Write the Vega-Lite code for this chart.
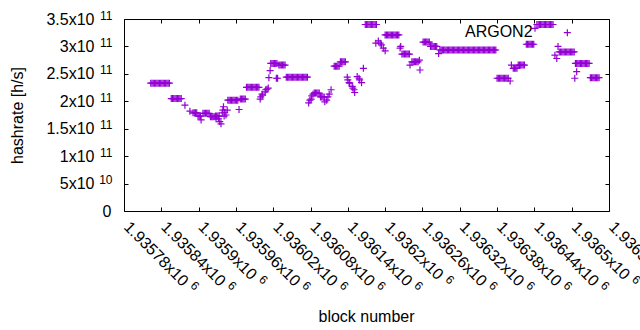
{
"$schema": "https://vega.github.io/schema/vega-lite/v6.json",
"width": 485, "height": 192,
"autosize": {"type": "none"},
"padding": {"left": 124, "top": 19, "right": 31, "bottom": 119},
"background": "white",
"config": {
  "view": {"stroke": null},
  "font": "Liberation Sans",
  "axis": {"labelFont": "Liberation Sans", "labelFontSize": 16, "labelColor": "black", "titleFont": "Liberation Sans", "titleFontSize": 16, "titleFontWeight": "normal", "titleColor": "black", "domainColor": "black", "domainWidth": 1, "tickColor": "black", "tickWidth": 1, "grid": false, "tickSize": -4, "labelOverlap": false, "labelFlush": false, "labelBound": false}
},
"data": {"values": [
{"b":1935823,"h":2.33e11},{"b":1935825,"h":2.33e11},{"b":1935827,"h":2.33e11},{"b":1935829,"h":2.33e11},{"b":1935831,"h":2.33e11},{"b":1935833,"h":2.33e11},{"b":1935835,"h":2.33e11},{"b":1935837,"h":2.33e11},{"b":1935839,"h":2.33e11},{"b":1935841,"h":2.33e11},{"b":1935843,"h":2.33e11},{"b":1935845,"h":2.33e11},{"b":1935847,"h":2.33e11},{"b":1935849,"h":2.33e11},{"b":1935851,"h":2.33e11},{"b":1935853,"h":2.33e11},
{"b":1935856,"h":2.05e11},{"b":1935858,"h":2.05e11},{"b":1935860,"h":2.05e11},{"b":1935862,"h":2.05e11},{"b":1935864,"h":2.05e11},{"b":1935866,"h":2.05e11},{"b":1935868,"h":2.05e11},{"b":1935870,"h":2.05e11},{"b":1935872,"h":2.05e11},
{"b":1935878,"h":1.93e11},{"b":1935886,"h":1.82e11},
{"b":1935891,"h":1.79e11},{"b":1935893,"h":1.79e11},{"b":1935895,"h":1.79e11},{"b":1935897,"h":1.79e11},
{"b":1935899,"h":1.73e11},{"b":1935901,"h":1.73e11},{"b":1935903,"h":1.73e11},{"b":1935904,"h":1.66e11},
{"b":1935907,"h":1.78e11},{"b":1935909,"h":1.78e11},{"b":1935911,"h":1.78e11},{"b":1935913,"h":1.78e11},{"b":1935915,"h":1.78e11},{"b":1935917,"h":1.78e11},
{"b":1935919,"h":1.72e11},{"b":1935921,"h":1.72e11},{"b":1935923,"h":1.72e11},{"b":1935925,"h":1.72e11},
{"b":1935927,"h":1.73e11},{"b":1935929,"h":1.73e11},{"b":1935931,"h":1.73e11},{"b":1935933,"h":1.73e11},{"b":1935928,"h":1.68e11},{"b":1935932,"h":1.68e11},
{"b":1935934,"h":1.63e11},{"b":1935936,"h":1.59e11},
{"b":1935938,"h":1.79e11},{"b":1935939,"h":1.84e11},{"b":1935940,"h":1.90e11},{"b":1935941,"h":1.73e11},{"b":1935942,"h":1.80e11},{"b":1935944,"h":1.75e11},{"b":1935946,"h":1.84e11},
{"b":1935947,"h":2.02e11},{"b":1935949,"h":2.02e11},{"b":1935951,"h":2.02e11},{"b":1935953,"h":2.02e11},{"b":1935955,"h":2.02e11},{"b":1935957,"h":2.02e11},{"b":1935959,"h":2.02e11},{"b":1935961,"h":2.02e11},{"b":1935963,"h":2.02e11},
{"b":1935965,"h":1.85e11},
{"b":1935967,"h":2.04e11},{"b":1935969,"h":2.04e11},{"b":1935971,"h":2.04e11},{"b":1935973,"h":2.04e11},{"b":1935975,"h":2.04e11},
{"b":1935977,"h":2.255e11},{"b":1935979,"h":2.255e11},{"b":1935981,"h":2.255e11},{"b":1935983,"h":2.255e11},{"b":1935985,"h":2.255e11},{"b":1935987,"h":2.255e11},{"b":1935989,"h":2.255e11},{"b":1935991,"h":2.255e11},{"b":1935993,"h":2.255e11},{"b":1935995,"h":2.255e11},{"b":1935997,"h":2.255e11},
{"b":1935999,"h":2.04e11},{"b":1936000,"h":2.08e11},{"b":1936002,"h":2.13e11},{"b":1936003,"h":2.11e11},
{"b":1936007,"h":2.17e11},{"b":1936008,"h":2.21e11},{"b":1936010,"h":2.22e11},{"b":1936012,"h":2.24e11},{"b":1936013,"h":2.43e11},{"b":1936015,"h":2.56e11},
{"b":1936016,"h":2.69e11},{"b":1936018,"h":2.69e11},{"b":1936020,"h":2.69e11},{"b":1936022,"h":2.69e11},{"b":1936024,"h":2.69e11},{"b":1936026,"h":2.69e11},
{"b":1936025,"h":2.42e11},{"b":1936027,"h":2.42e11},
{"b":1936029,"h":2.66e11},{"b":1936031,"h":2.66e11},{"b":1936033,"h":2.66e11},{"b":1936035,"h":2.66e11},{"b":1936037,"h":2.66e11},{"b":1936039,"h":2.66e11},
{"b":1936041,"h":2.44e11},{"b":1936043,"h":2.44e11},{"b":1936045,"h":2.44e11},{"b":1936047,"h":2.44e11},{"b":1936049,"h":2.44e11},{"b":1936051,"h":2.44e11},{"b":1936053,"h":2.44e11},{"b":1936055,"h":2.44e11},{"b":1936057,"h":2.44e11},{"b":1936059,"h":2.44e11},{"b":1936061,"h":2.44e11},{"b":1936063,"h":2.44e11},{"b":1936065,"h":2.44e11},{"b":1936067,"h":2.44e11},{"b":1936069,"h":2.44e11},{"b":1936071,"h":2.44e11},{"b":1936073,"h":2.44e11},{"b":1936075,"h":2.44e11},
{"b":1936077,"h":1.97e11},{"b":1936079,"h":2.02e11},{"b":1936081,"h":2.04e11},{"b":1936082,"h":2.10e11},{"b":1936084,"h":2.13e11},
{"b":1936086,"h":2.15e11},{"b":1936088,"h":2.15e11},{"b":1936090,"h":2.15e11},{"b":1936092,"h":2.15e11},{"b":1936094,"h":2.15e11},
{"b":1936096,"h":2.08e11},{"b":1936098,"h":2.08e11},{"b":1936100,"h":2.08e11},{"b":1936102,"h":2.08e11},
{"b":1936103,"h":1.99e11},{"b":1936106,"h":2.02e11},{"b":1936108,"h":2.08e11},{"b":1936110,"h":2.13e11},{"b":1936113,"h":2.21e11},
{"b":1936118,"h":2.64e11},{"b":1936120,"h":2.64e11},{"b":1936122,"h":2.64e11},{"b":1936124,"h":2.64e11},{"b":1936126,"h":2.64e11},
{"b":1936128,"h":2.72e11},{"b":1936130,"h":2.72e11},{"b":1936132,"h":2.72e11},{"b":1936134,"h":2.72e11},{"b":1936136,"h":2.72e11},
{"b":1936139,"h":2.44e11},{"b":1936140,"h":2.39e11},{"b":1936142,"h":2.34e11},{"b":1936143,"h":2.33e11},{"b":1936147,"h":2.27e11},{"b":1936148,"h":2.24e11},{"b":1936150,"h":2.21e11},{"b":1936151,"h":2.16e11},
{"b":1936155,"h":2.45e11},{"b":1936158,"h":2.42e11},{"b":1936159,"h":2.39e11},{"b":1936162,"h":2.34e11},
{"b":1936165,"h":2.60e11},
{"b":1936168,"h":3.40e11},{"b":1936170,"h":3.40e11},{"b":1936172,"h":3.40e11},{"b":1936174,"h":3.40e11},{"b":1936176,"h":3.40e11},{"b":1936178,"h":3.40e11},{"b":1936180,"h":3.40e11},{"b":1936182,"h":3.40e11},{"b":1936184,"h":3.40e11},{"b":1936186,"h":3.40e11},
{"b":1936185,"h":3.06e11},{"b":1936189,"h":3.10e11},{"b":1936192,"h":3.06e11},{"b":1936194,"h":3.03e11},{"b":1936197,"h":2.97e11},{"b":1936200,"h":2.92e11},
{"b":1936200,"h":3.21e11},{"b":1936202,"h":3.21e11},{"b":1936204,"h":3.21e11},{"b":1936206,"h":3.21e11},{"b":1936208,"h":3.21e11},{"b":1936210,"h":3.21e11},{"b":1936212,"h":3.21e11},{"b":1936214,"h":3.21e11},{"b":1936216,"h":3.21e11},{"b":1936218,"h":3.21e11},{"b":1936220,"h":3.21e11},{"b":1936222,"h":3.21e11},
{"b":1936224,"h":2.97e11},{"b":1936225,"h":3.0e11},
{"b":1936227,"h":2.86e11},{"b":1936229,"h":2.86e11},{"b":1936231,"h":2.86e11},{"b":1936233,"h":2.86e11},{"b":1936235,"h":2.86e11},{"b":1936237,"h":2.86e11},{"b":1936239,"h":2.86e11},
{"b":1936240,"h":2.66e11},
{"b":1936243,"h":2.72e11},{"b":1936245,"h":2.72e11},{"b":1936247,"h":2.72e11},{"b":1936249,"h":2.72e11},{"b":1936251,"h":2.72e11},{"b":1936253,"h":2.72e11},
{"b":1936255,"h":2.75e11},{"b":1936256,"h":2.57e11},
{"b":1936261,"h":3.08e11},{"b":1936263,"h":3.08e11},{"b":1936265,"h":3.08e11},{"b":1936267,"h":3.08e11},{"b":1936269,"h":3.08e11},{"b":1936271,"h":3.08e11},
{"b":1936273,"h":3.0e11},{"b":1936275,"h":3.0e11},{"b":1936277,"h":3.0e11},{"b":1936279,"h":3.0e11},{"b":1936281,"h":3.0e11},{"b":1936283,"h":3.0e11},
{"b":1936286,"h":2.87e11},
{"b":1936288,"h":2.935e11},{"b":1936290,"h":2.935e11},{"b":1936292,"h":2.935e11},{"b":1936294,"h":2.935e11},{"b":1936296,"h":2.935e11},{"b":1936298,"h":2.935e11},{"b":1936300,"h":2.935e11},{"b":1936302,"h":2.935e11},{"b":1936304,"h":2.935e11},{"b":1936306,"h":2.935e11},{"b":1936308,"h":2.935e11},{"b":1936310,"h":2.935e11},{"b":1936312,"h":2.935e11},{"b":1936314,"h":2.935e11},{"b":1936316,"h":2.935e11},{"b":1936318,"h":2.935e11},{"b":1936320,"h":2.935e11},{"b":1936322,"h":2.935e11},{"b":1936324,"h":2.935e11},{"b":1936326,"h":2.935e11},{"b":1936328,"h":2.935e11},{"b":1936330,"h":2.935e11},{"b":1936332,"h":2.935e11},{"b":1936334,"h":2.935e11},{"b":1936336,"h":2.935e11},{"b":1936338,"h":2.935e11},{"b":1936340,"h":2.935e11},{"b":1936342,"h":2.935e11},{"b":1936344,"h":2.935e11},{"b":1936346,"h":2.935e11},{"b":1936348,"h":2.935e11},{"b":1936350,"h":2.935e11},{"b":1936352,"h":2.935e11},{"b":1936354,"h":2.935e11},{"b":1936356,"h":2.935e11},{"b":1936358,"h":2.935e11},{"b":1936360,"h":2.935e11},{"b":1936362,"h":2.935e11},{"b":1936364,"h":2.935e11},{"b":1936366,"h":2.935e11},{"b":1936368,"h":2.935e11},{"b":1936370,"h":2.935e11},{"b":1936372,"h":2.935e11},{"b":1936374,"h":2.935e11},{"b":1936376,"h":2.935e11},{"b":1936378,"h":2.935e11},
{"b":1936380,"h":2.42e11},{"b":1936382,"h":2.42e11},{"b":1936384,"h":2.42e11},{"b":1936386,"h":2.42e11},{"b":1936388,"h":2.42e11},{"b":1936390,"h":2.42e11},{"b":1936392,"h":2.42e11},{"b":1936394,"h":2.42e11},{"b":1936396,"h":2.42e11},{"b":1936398,"h":2.42e11},
{"b":1936401,"h":2.37e11},
{"b":1936403,"h":2.66e11},{"b":1936406,"h":2.60e11},{"b":1936408,"h":2.60e11},{"b":1936410,"h":2.60e11},{"b":1936412,"h":2.60e11},
{"b":1936414,"h":2.66e11},{"b":1936416,"h":2.66e11},{"b":1936418,"h":2.66e11},{"b":1936420,"h":2.66e11},{"b":1936422,"h":2.66e11},{"b":1936424,"h":2.66e11},
{"b":1936427,"h":3.04e11},{"b":1936429,"h":3.04e11},{"b":1936431,"h":3.04e11},{"b":1936433,"h":3.04e11},{"b":1936435,"h":3.04e11},{"b":1936437,"h":3.04e11},{"b":1936439,"h":3.04e11},
{"b":1936441,"h":3.33e11},
{"b":1936444,"h":3.40e11},{"b":1936446,"h":3.40e11},{"b":1936448,"h":3.40e11},{"b":1936450,"h":3.40e11},{"b":1936452,"h":3.40e11},{"b":1936454,"h":3.40e11},{"b":1936456,"h":3.40e11},{"b":1936458,"h":3.40e11},{"b":1936460,"h":3.40e11},{"b":1936462,"h":3.40e11},{"b":1936464,"h":3.40e11},{"b":1936466,"h":3.40e11},{"b":1936468,"h":3.40e11},{"b":1936470,"h":3.40e11},
{"b":1936473,"h":2.84e11},{"b":1936476,"h":2.78e11},{"b":1936478,"h":3.0e11},
{"b":1936480,"h":2.90e11},{"b":1936482,"h":2.90e11},{"b":1936484,"h":2.90e11},{"b":1936486,"h":2.90e11},{"b":1936488,"h":2.90e11},{"b":1936490,"h":2.90e11},{"b":1936492,"h":2.90e11},{"b":1936494,"h":2.90e11},{"b":1936496,"h":2.90e11},{"b":1936498,"h":2.90e11},{"b":1936500,"h":2.90e11},{"b":1936502,"h":2.90e11},{"b":1936504,"h":2.90e11},
{"b":1936493,"h":3.25e11},
{"b":1936505,"h":2.42e11},{"b":1936508,"h":2.54e11},
{"b":1936506,"h":2.69e11},{"b":1936508,"h":2.69e11},{"b":1936510,"h":2.69e11},{"b":1936512,"h":2.69e11},{"b":1936514,"h":2.69e11},{"b":1936516,"h":2.69e11},{"b":1936518,"h":2.69e11},{"b":1936520,"h":2.69e11},{"b":1936522,"h":2.69e11},{"b":1936524,"h":2.69e11},{"b":1936526,"h":2.69e11},{"b":1936528,"h":2.69e11},
{"b":1936530,"h":2.43e11},{"b":1936532,"h":2.43e11},{"b":1936534,"h":2.43e11},{"b":1936536,"h":2.43e11},{"b":1936538,"h":2.43e11},{"b":1936540,"h":2.43e11},{"b":1936542,"h":2.43e11},{"b":1936544,"h":2.43e11}
]},
"layer": [
  {
    "mark": {"type": "point", "shape": "M-1,0L1,0M0,-1L0,1", "filled": false, "strokeWidth": 1.2, "size": 49, "opacity": 1},
    "encoding": {
      "x": {"field": "b", "type": "quantitative",
        "scale": {"domain": [1935780, 1936560], "nice": false, "zero": false},
        "axis": {"orient": "bottom", "values": [1935780,1935840,1935900,1935960,1936020,1936080,1936140,1936200,1936260,1936320,1936380,1936440,1936500,1936560],
          "labelExpr": "format(datum.value/1e6, '.6~g') + 'x10'",
          "labelAngle": 45, "labelAlign": "left", "labelBaseline": "middle", "labelPadding": 17, "labelOffset": 2,
          "title": "block number", "titleX": 242, "titleY": 105, "titleBaseline": "middle", "titleAlign": "center"}},
      "y": {"field": "h", "type": "quantitative",
        "scale": {"domain": [0, 350000000000], "nice": false},
        "axis": {"orient": "left", "values": [0,50000000000,100000000000,150000000000,200000000000,250000000000,300000000000,350000000000],
          "labelExpr": "datum.value == 0 ? '0' : (datum.value < 1e11 ? (datum.value/1e10) + 'x10' : (datum.value/1e11) + 'x10')",
          "labelPadding": {"condition": {"test": "datum.value == 0", "value": 17}, "value": 34},
          "title": "hashrate [h/s]", "titleX": -107, "titleY": 96, "titleAngle": -90, "titleBaseline": "middle", "titleAlign": "center"}},
      "color": {"datum": "ARGON2", "scale": {"range": ["#9400D3"]},
        "legend": {"orient": "none", "legendX": 325, "legendY": 5, "title": null, "labelFontSize": 16, "labelFont": "Liberation Sans", "labelColor": "black", "symbolSize": 0, "symbolOpacity": 0, "symbolStrokeWidth": 0, "labelOffset": 0, "padding": 0}}
    }
  },
  {
    "data": {"values": [{"b": 1935780, "h": 0}]},
    "mark": {"type": "point", "opacity": 0},
    "encoding": {
      "x": {"field": "b", "type": "quantitative", "axis": {"orient": "top", "labels": false, "title": null, "values": [1935780,1935840,1935900,1935960,1936020,1936080,1936140,1936200,1936260,1936320,1936380,1936440,1936500,1936560]}},
      "y": {"field": "h", "type": "quantitative", "axis": {"orient": "right", "labels": false, "title": null, "values": [0,50000000000,100000000000,150000000000,200000000000,250000000000,300000000000,350000000000]}}
    }
  },
  {
    "data": {"values": [{"b": 1935780, "h": 0}]},
    "mark": {"type": "point", "opacity": 0},
    "encoding": {
      "x": {"field": "b", "type": "quantitative", "axis": {"orient": "bottom", "domain": false, "ticks": false, "tickSize": 0, "title": null,
        "values": [1935780,1935840,1935900,1935960,1936020,1936080,1936140,1936200,1936260,1936320,1936380,1936440,1936500,1936560],
        "labelExpr": "'6'", "labelFontSize": 12, "labelAngle": 45, "labelAlign": "left", "labelBaseline": "middle",
        "labelOffset": {"condition": {"test": "datum.value % 300 == 0", "value": 62}, "value": 68},
        "labelPadding": {"condition": {"test": "datum.value % 300 == 0", "value": 66}, "value": 72}}},
      "y": {"field": "h", "type": "quantitative", "axis": {"orient": "left", "domain": false, "ticks": false, "tickSize": 0, "title": null,
        "values": [0,50000000000,100000000000,150000000000,200000000000,250000000000,300000000000,350000000000],
        "labelExpr": "datum.value == 0 ? '' : (datum.value < 1e11 ? '10' : '11')", "labelFontSize": 12,
        "labelPadding": 12, "labelOffset": -4}}
    }
  }
],
"resolve": {"axis": {"x": "independent", "y": "independent"}}
}
